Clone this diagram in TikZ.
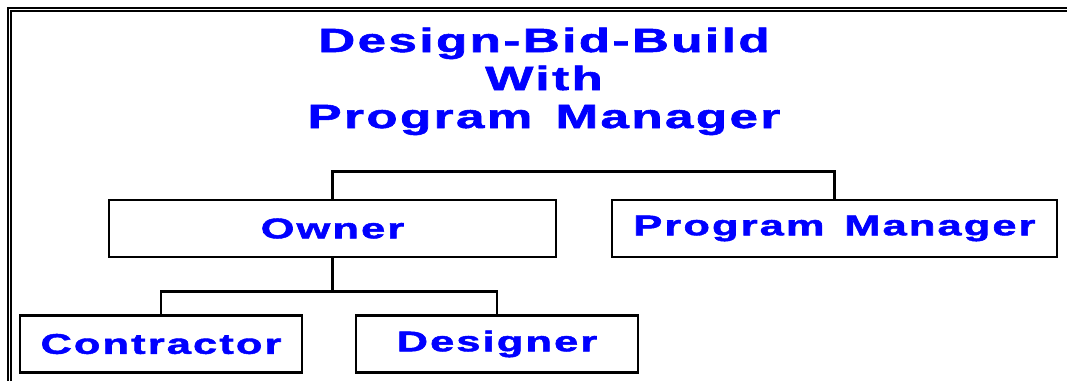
\documentclass[tikz,border=0pt]{standalone}
\usepackage{xcolor}
\usepackage{graphicx}
\usepackage{fontspec}
\usepackage{tikz}
\usetikzlibrary{positioning,calc}
\newfontfamily\widesans{Liberation Sans}[LetterSpace=5,WordSpace=1.4,BoldFeatures={FakeBold=1.5}]
\definecolor{zw}{RGB}{0,0,0}
\definecolor{bl}{RGB}{0,0,255}
\newcommand{\BL}[1]{\textcolor{bl}{\scalebox{1.52}[1]{#1}}}
\tikzset{
  orgbox/.style={draw=zw,line width=2.6pt,minimum height=57pt,inner sep=0pt,
    font=\widesans\bfseries\fontsize{28.5}{32}\selectfont},
  tline/.style={draw=zw,line width=2.6pt},
  ttl/.style={anchor=base,font=\widesans\bfseries\fontsize{33.5}{36}\selectfont}
}

\begin{document}
\begin{tikzpicture}[x=1pt,y=-1pt]
  \useasboundingbox (0,0) rectangle (1067,381);
  % frame
  \draw[line width=2pt] (8,381) -- (8,8) -- (1067,8);
  \draw[line width=2pt] (11,381) -- (11,11) -- (1067,11);

  % title
  \node[ttl] (t1) at (544,52) {\BL{Design-Bid-Build}};
  \node[ttl] (t2) at (544,90) {\BL{With}};
  \node[ttl] (t3) at (544,128) {\BL{Program Manager}};

  % boxes
  \node[orgbox,minimum width=447pt] (owner) at (332.5,228.5) {\BL{Owner}};
  \node[orgbox,minimum width=445pt] (pm) at (834.5,228.5) {\BL{Program Manager}};
  \node[orgbox,minimum width=282pt] (contr) at (161,344) {\BL{Contractor}};
  \node[orgbox,minimum width=282pt] (design) at (497,344) {\BL{Designer}};

  % lines
  \draw[tline] (owner.north) -- ++(0,-27) -| (pm.north);
  \draw[tline] (owner.south) -- ++(0,33) coordinate (split);
  \draw[tline] (split) -| (contr.north);
  \draw[tline] (split) -| (design.north);
\end{tikzpicture}
\end{document}
